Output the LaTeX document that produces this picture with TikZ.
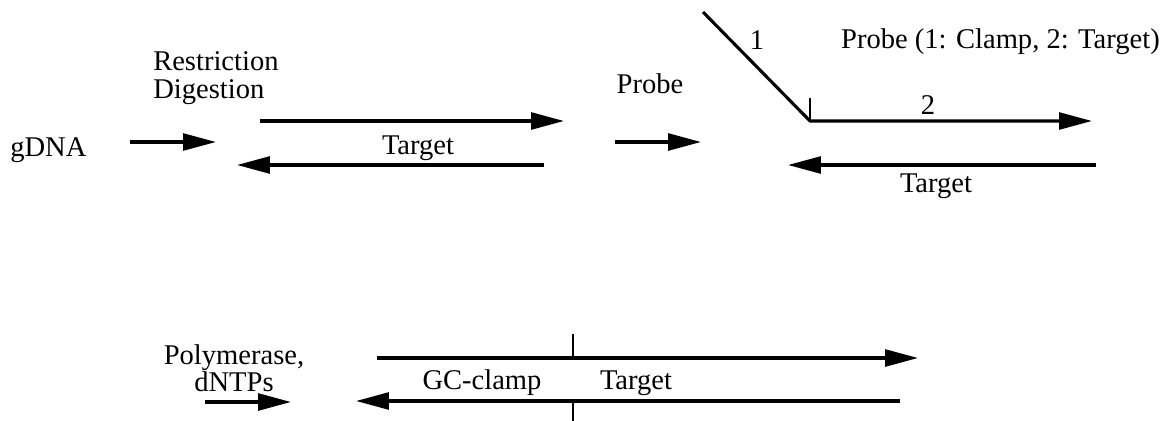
\documentclass[tikz,border=0pt]{standalone}
\usepackage{fontspec}
\setmainfont{Liberation Serif}
\usetikzlibrary{arrows.meta, calc, positioning}
\tikzset{
    strand/.style = {line width=2.2pt, -{Triangle[length=0.82cm, width=0.42cm]}}, % a DNA strand, 5' to 3'
    plain/.style = {line width=1.6pt},
    step arrow/.style = {line width=2.2pt, -{Triangle[length=0.82cm, width=0.42cm]}},
    lbl/.style = {font=\fontsize{20.3}{19.5}\selectfont, inner sep=0pt}
}

\begin{document}
\begin{tikzpicture}[x=0.025cm, y=-0.025cm]
        \useasboundingbox (0,0) rectangle (1166,421);

        %nodes

        \node[lbl, anchor=west, align=left] (digest) at (153,78) {Restriction\\Digestion};
        \node[lbl, anchor=west] (gdna) at (10,150) {gDNA};
        \node[lbl] (target1) at (418,148) {Target};
        \node[lbl] (probe) at (650,84) {Probe};
        \node[lbl] (one) at (757,40) {1};
        \node[lbl, anchor=east] (legend) at (1160,42) {Probe (1: Clamp, 2: Target)};
        \node[lbl] (two) at (928,105) {2};
        \node[lbl] (target2) at (936,186) {Target};
        \node[lbl, align=center] (poly) at (234,368) {Polymerase,\\dNTPs};
        \node[lbl] (gc) at (482,383) {GC-clamp};
        \node[lbl] (target3) at (636,383) {Target};

        %strand ends

        \coordinate (a1) at (130,142);  \coordinate (a2) at (216,142);
        \coordinate (t1) at (260,121);  \coordinate (t2) at (564,121);
        \coordinate (b1) at (544,165);  \coordinate (b2) at (237,165);
        \coordinate (p1) at (615,142);  \coordinate (p2) at (701,142);
        \coordinate (c1) at (703,12);   \coordinate (c2) at (810,121);
        \coordinate (k1) at (810,98);   \coordinate (t3) at (1092,121);
        \coordinate (b3) at (1096,165); \coordinate (b4) at (788,165);
        \coordinate (q1) at (205,402);  \coordinate (q2) at (291,402);
        \coordinate (u1) at (377,358);  \coordinate (u2) at (918,358);
        \coordinate (v1) at (900,401);  \coordinate (v2) at (356,401);
        \coordinate (m1) at (573,334);  \coordinate (m2) at (573,421);

        %arrows

        \draw[step arrow] (a1) -- (a2);
        \draw[strand] (t1) -- (t2);
        \draw[strand] (b1) -- (b2);
        \draw[step arrow] (p1) -- (p2);
        \draw[strand, line join=miter] (c1) -- (c2) -- (t3);
        \draw[plain] (k1) -- (c2);
        \draw[strand] (b3) -- (b4);
        \draw[step arrow] (q1) -- (q2);
        \draw[strand] (u1) -- (u2);
        \draw[strand] (v1) -- (v2);
        \draw[plain] (m1) -- (u1-|m1);
        \draw[plain] (v1-|m1) -- (m2);
    \end{tikzpicture}
\end{document}
